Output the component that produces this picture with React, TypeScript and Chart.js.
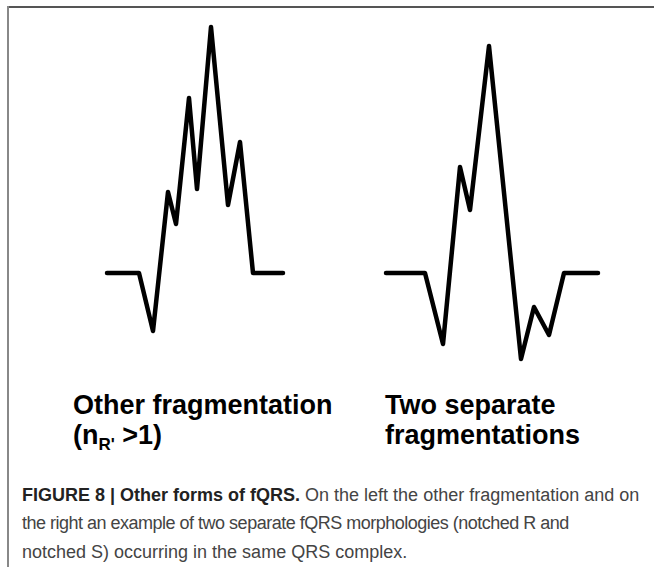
import React, { useEffect, useRef } from "react";
import { Chart, registerables } from "chart.js";

Chart.register(...registerables);

// Left complex: "Other fragmentation" (time units, amplitude units; baseline = 0)
const leftTime = [10.7, 13.9, 15.3, 16.8, 17.6, 18.9, 19.7, 21.1, 22.8, 24.0, 25.3, 28.3];
const leftAmp = [0, 0, -5.8, 8.1, 4.9, 17.5, 8.4, 24.6, 6.8, 13.1, 0, 0];

// Right complex: "Two separate fragmentations"
const rightTime = [38.6, 42.5, 44.3, 46.0, 47.0, 48.9, 52.1, 53.4, 54.9, 56.4, 59.8];
const rightAmp = [0, 0, -7.1, 10.6, 6.3, 22.7, -8.6, -3.4, -6.2, 0, 0];

const timeRange = [0, 65.4];
const ampRange = [-10.7, 27.3];

const leftLabel = ["Other fragmentation"];
const rightLabel = ["Two separate", "fragmentations"];
const captionBold = "FIGURE 8 | Other forms of fQRS.";
const captionRest = [
  " On the left the other fragmentation and on",
  "the right an example of two separate fQRS morphologies (notched R and",
  "notched S) occurring in the same QRS complex.",
];

export default function App() {
  const ref = useRef<HTMLCanvasElement | null>(null);

  useEffect(() => {
    if (!ref.current) return;
    const toPts = (xs: number[], ys: number[]) => xs.map((x, i) => ({ x, y: ys[i] }));
    const common = {
      borderColor: "#000",
      borderWidth: 4.5,
      pointRadius: 0,
      tension: 0,
      fill: false,
      borderJoinStyle: "round" as const,
      borderCapStyle: "round" as const,
    };
    const chart = new Chart(ref.current, {
      type: "line",
      data: {
        datasets: [
          { label: "Other fragmentation", data: toPts(leftTime, leftAmp), ...common },
          { label: "Two separate fragmentations", data: toPts(rightTime, rightAmp), ...common },
        ],
      },
      options: {
        animation: false,
        responsive: false,
        devicePixelRatio: 1,
        layout: { padding: 0 },
        plugins: { legend: { display: false }, tooltip: { enabled: false }, title: { display: false } },
        scales: {
          x: { type: "linear", min: timeRange[0], max: timeRange[1], display: false },
          y: { type: "linear", min: ampRange[0], max: ampRange[1], display: false },
        },
      },
    });
    return () => chart.destroy();
  }, []);

  const labelFont: React.CSSProperties = {
    position: "absolute",
    fontFamily: "'Liberation Sans', Arial, sans-serif",
    fontWeight: 700,
    fontSize: 27,
    lineHeight: "30px",
    color: "#000",
    whiteSpace: "nowrap",
  };

  return (
    <div
      style={{
        position: "absolute",
        left: 0,
        top: 0,
        width: 654,
        height: 567,
        background: "#fff",
        overflow: "hidden",
      }}
    >
      <div style={{ position: "absolute", left: 7, top: 6, width: 647, height: 2, background: "#555" }} />
      <div style={{ position: "absolute", left: 7, top: 6, width: 2, height: 561, background: "#888" }} />
      <canvas
        ref={ref}
        width={654}
        height={380}
        style={{ position: "absolute", left: 0, top: 0, width: 654, height: 380 }}
      />
      <div style={{ ...labelFont, left: 73, top: 390 }}>
        <div>{leftLabel[0]}</div>
        <div>
          (n
          <span style={{ fontSize: 17, position: "relative", top: 6 }}>R'</span>
          {" >1)"}
        </div>
      </div>
      <div style={{ ...labelFont, left: 385, top: 390 }}>
        {rightLabel.map((t) => (
          <div key={t}>{t}</div>
        ))}
      </div>
      <div
        style={{
          position: "absolute",
          left: 22,
          top: 481,
          fontFamily: "'Liberation Sans', Arial, sans-serif",
          fontSize: 18,
          lineHeight: "28.4px",
          color: "#444",
          whiteSpace: "nowrap",
        }}
      >
        <div>
          <span style={{ fontWeight: 700, color: "#222" }}>{captionBold}</span>
          {captionRest[0]}
        </div>
        <div style={{ letterSpacing: -0.5 }}>{captionRest[1]}</div>
        <div>{captionRest[2]}</div>
      </div>
    </div>
  );
}
